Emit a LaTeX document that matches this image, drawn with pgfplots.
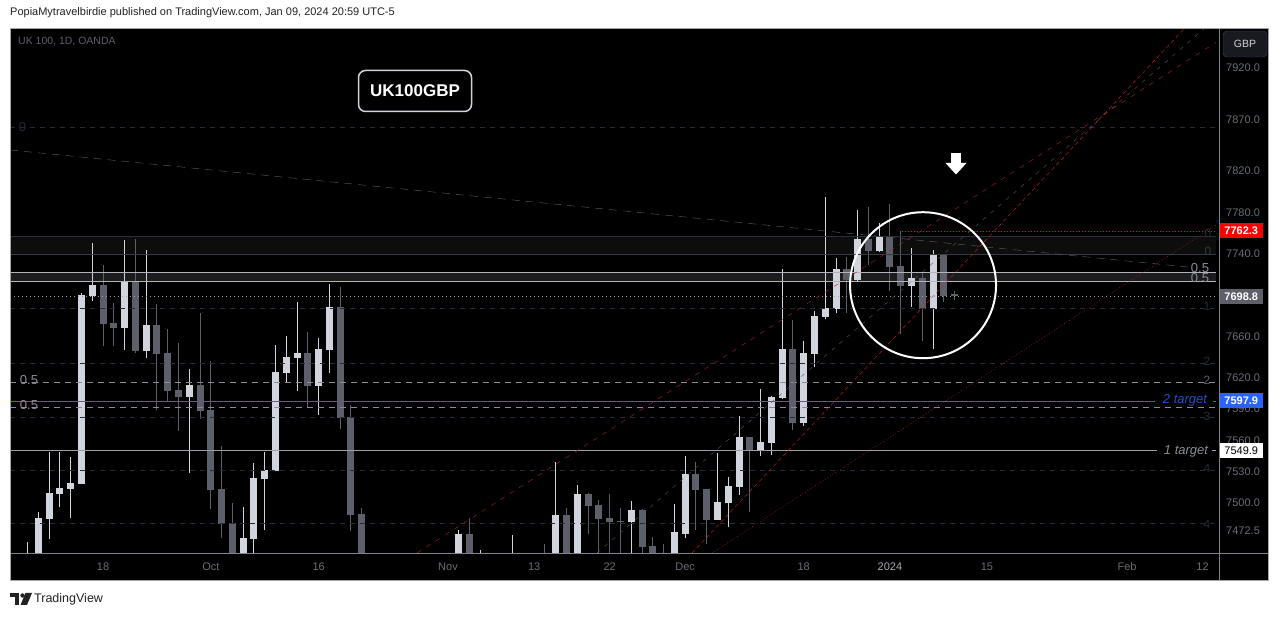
\documentclass[border=0pt]{standalone}
\usepackage{pgfplots}
\pgfplotsset{compat=1.18}
\usepackage{pgfplotstable}
\usepackage{fontspec}
\setmainfont{Liberation Sans}

\definecolor{up}{HTML}{D1D4DC}
\definecolor{dn}{HTML}{5D606B}
\definecolor{tick}{HTML}{6A6D77}
\definecolor{hdr}{HTML}{222222}
\definecolor{fibdark}{HTML}{262B3B}
\definecolor{zoneln}{HTML}{2A2E39}
\definecolor{zoneln2}{HTML}{363A45}
\definecolor{fibgray}{HTML}{8A8D96}
\definecolor{tvblue}{HTML}{2962FF}
\definecolor{tgtblue}{HTML}{2450C8}
\definecolor{redln}{HTML}{B0202A}
\definecolor{redhi}{HTML}{E01E1E}
\definecolor{sep}{HTML}{80838C}
\definecolor{btnfill}{HTML}{181A20}
\definecolor{btnline}{HTML}{434651}

\newcommand\fs[1]{\fontsize{#1}{#1}\selectfont}

% daily candles, x = trading-day index (0 = 18 Sep 2023)
\pgfplotstableread{
i o h l c
-7 7432 7462.2 7425 7445
-6 7440 7490.6 7430 7485.0
-5 7484.0 7549.1 7464.3 7509.4
-4 7508.5 7549.1 7495.3 7514.1
-3 7513.2 7543.4 7485.0 7518.8
-2 7517.9 7702.0 7517.9 7700.1
-1 7699.1 7750.4 7694.3 7709.7
2 7668.3 7753.3 7647.1 7712.6
4 7646.2 7743.5 7639.5 7671.2
8 7602.2 7628.9 7528.3 7613.6
13 7435 7495.3 7425 7465.2
14 7464.3 7537.7 7450 7523.6
15 7522.6 7549.1 7473.7 7531.1
16 7530.2 7651.9 7530.2 7626.1
17 7625.1 7660.6 7615.6 7640.4
18 7639.5 7693.3 7607.9 7644.2
20 7612.7 7658.7 7584.1 7648.1
21 7647.1 7710.6 7625.1 7688.5
33 7430 7473.7 7420 7469.0
35 7425 7453.6 7415 7440
38 7430 7468.1 7420 7445
42 7440 7538.7 7430 7487.8
44 7440 7516.9 7430 7508.5
49 7481.2 7500.9 7440 7492.5
53 7445 7498.1 7435 7470.9
54 7469.9 7544.3 7465.2 7527.3
57 7483.1 7547.2 7483.1 7500.0
58 7499.0 7524.5 7476.5 7516.0
59 7515.0 7583.2 7507.5 7563.3
61 7550.0 7609.8 7544.3 7558.5
62 7557.6 7603.1 7545.3 7602.2
63 7601.2 7725.2 7600.0 7648.1
65 7576.5 7655.8 7573.7 7644.2
66 7643.3 7684.6 7630.9 7679.8
67 7678.9 7795.2 7677.0 7687.5
68 7686.6 7735.8 7682.7 7725.2
70 7714.6 7782.5 7714.0 7754.3
72 7742.6 7769.8 7742.0 7757.2
75 7708.8 7745.5 7688.5 7716.5
77 7686.6 7743.5 7648.1 7739.7
}\upc

\pgfplotstableread{
i o h l c
0 7709.7 7729.0 7651.0 7672.1
1 7673.1 7692.3 7651.0 7668.3
3 7712.6 7754.3 7644.0 7646.2
5 7671.2 7691.4 7588.9 7643.3
6 7644.2 7667.3 7597.4 7607.9
7 7608.9 7653.9 7569.0 7602.2
9 7613.6 7682.7 7580.3 7587.9
10 7588.9 7636.6 7493.4 7512.2
11 7513.2 7554.7 7465.2 7479.4
12 7480.3 7499.0 7430 7440
19 7644.2 7664.5 7591.7 7612.7
22 7688.5 7707.7 7570.9 7581.3
23 7582.2 7593.6 7472.8 7487.8
24 7488.7 7494.4 7430 7440
34 7469.0 7485.0 7430 7440
41 7445 7459.6 7420 7430
43 7487.8 7494.4 7430 7440
45 7508.5 7509.0 7469.0 7496.2
46 7497.2 7501.9 7440 7484.0
47 7485.0 7508.5 7450 7481.2
48 7482.2 7494.4 7440 7481.2
50 7492.5 7493.4 7440 7456.8
51 7457.7 7466.2 7430 7445
52 7448 7459.6 7430 7440
55 7527.3 7538.7 7473.7 7512.2
56 7513.2 7513.2 7459.6 7483.1
60 7563.3 7563.3 7490.6 7550.0
64 7648.1 7676.0 7569.9 7576.5
69 7725.2 7736.8 7682.7 7714.6
71 7754.3 7785.4 7729.0 7742.6
73 7757.2 7788.4 7703.9 7727.1
74 7728.1 7762.1 7662.5 7708.8
76 7716.5 7721.3 7655.8 7686.6
78 7739.7 7739.7 7693.3 7699.1
79 7701.0 7703.9 7695.2 7698.8
}\dnc

\begin{document}
\begin{tikzpicture}
\path[use as bounding box] (0,0) rectangle (1281pt,617pt);
\begin{scope}[x=1pt,y=-1pt,shift={(0pt,617pt)}]
  \fill[white] (0,0) rectangle (1281,617);
  \fill[black] (10,28) rectangle (1268,580);
  \node[anchor=west, inner sep=0pt, text=hdr, font=\fs{11}] at (10,13)
    {PopiaMytravelbirdie published on TradingView.com, Jan 09, 2024 20:59 UTC-5};
\end{scope}

\begin{axis}[
  at={(10pt,64pt)}, anchor=south west,
  scale only axis, width=1206pt, height=525pt,
  xmin=-8.63, xmax=103.25,
  ymin=7451.1, ymax=7958.1,
  axis line style={draw=none},
  major tick length=0pt, minor tick num=0,
  xtick={0,10,20,32,40,47,54,65,73,82,95,102},
  xticklabels={18,Oct,16,Nov,13,22,Dec,18,{\textcolor{up!80!black}{2024}},15,Feb,12},
  ytick={7472.5,7500,7530,7560,7590,7620,7660,7740,7780,7820,7870,7920},
  yticklabels={7472.5,7500.0,7530.0,7560.0,7590.0,7620.0,7660.0,7740.0,7780.0,7820.0,7870.0,7920.0},
  yticklabel pos=right,
  ticklabel style={font=\fs{11}, text=tick},
  xticklabel style={anchor=center, yshift=-14pt},
  yticklabel style={anchor=west, xshift=10pt, inner sep=0pt},
]
% zones
\addplot[white, opacity=0.05, line width=18pt, forget plot] coordinates {(-8.63,7748.45) (103.25,7748.45)};
\addplot[white, opacity=0.11, line width=9pt, forget plot] coordinates {(-8.63,7717.95) (103.25,7717.95)};

% candles: wicks and bodies
\addplot[draw=none, forget plot, error bars/.cd, y dir=plus, y explicit, error mark=none,
  error bar style={draw=up, line width=1pt}]
  table[x=i, y=l, y error plus expr=\thisrow{h}-\thisrow{l}] {\upc};
\addplot[draw=none, forget plot, error bars/.cd, y dir=plus, y explicit, error mark=none,
  error bar style={draw=up, line width=7pt}]
  table[x=i, y=o, y error plus expr=\thisrow{c}-\thisrow{o}] {\upc};
\addplot[draw=none, forget plot, error bars/.cd, y dir=plus, y explicit, error mark=none,
  error bar style={draw=dn, line width=1pt}]
  table[x=i, y=l, y error plus expr=\thisrow{h}-\thisrow{l}] {\dnc};
\addplot[draw=none, forget plot, error bars/.cd, y dir=plus, y explicit, error mark=none,
  error bar style={draw=dn, line width=7pt}]
  table[x=i, y=c, y error plus expr=\thisrow{o}-\thisrow{c}] {\dnc};

% horizontal levels
\addplot[fibdark, dash pattern=on 5pt off 5pt] coordinates {(-8.63,7861.9) (103.25,7861.9)};
\addplot[zoneln] coordinates {(-8.63,7757.2) (103.25,7757.2)};
\addplot[zoneln2] coordinates {(-8.63,7739.7) (103.25,7739.7)};
\addplot[draw=up!85!black] coordinates {(-8.63,7722.3) (103.25,7722.3)};
\addplot[draw=up!85!black] coordinates {(-8.63,7713.6) (103.25,7713.6)};
\addplot[draw=dn!60!white, dash pattern=on 1pt off 3pt] coordinates {(-8.63,7698.8) (103.25,7698.8)};
\addplot[fibdark, dash pattern=on 5pt off 5pt] coordinates {(-8.63,7687.5) (103.25,7687.5)};
\addplot[fibdark, dash pattern=on 5pt off 5pt] coordinates {(-8.63,7634.7) (103.25,7634.7)};
\addplot[fibgray, dash pattern=on 6pt off 5pt] coordinates {(-8.63,7616.5) (103.25,7616.5)};
\addplot[tvblue] coordinates {(-8.63,7597.9) (97.59,7597.9)};
\addplot[tvblue] coordinates {(102.97,7597.9) (103.25,7597.9)};
\addplot[fibgray, dash pattern=on 6pt off 5pt] coordinates {(-8.63,7591.7) (103.25,7591.7)};
\addplot[fibdark, dash pattern=on 5pt off 5pt] coordinates {(-8.63,7582.2) (103.25,7582.2)};
\addplot[draw=up!75!black] coordinates {(-8.63,7549.9) (97.77,7549.9)};
\addplot[draw=up!75!black] coordinates {(102.9,7549.9) (103.25,7549.9)};
\addplot[fibdark, dash pattern=on 5pt off 5pt] coordinates {(-8.63,7531.1) (103.25,7531.1)};
\addplot[fibdark, dash pattern=on 5pt off 5pt] coordinates {(-8.63,7480.3) (103.25,7480.3)};
\addplot[red, dash pattern=on 1pt off 2pt] coordinates {(74.1,7762.3) (103.25,7762.3)};

% trend lines
\addplot[draw=dn, dash pattern=on 8pt off 6pt] coordinates {(-8.63,7840.3) (100.8,7727.1)};
\addplot[draw=redln, dash pattern=on 5pt off 6pt] coordinates {(29.13,7451.1) (103.25,7944.2)};
\addplot[draw=dn!90!black, dash pattern=on 4pt off 6pt] coordinates {(45.83,7451.1) (102.23,7958.1)};
\addplot[draw=redhi, dash pattern=on 4pt off 3pt] coordinates {(54.64,7451.1) (100.37,7958.1)};
\addplot[draw=redln, dash pattern=on 1pt off 2pt] coordinates {(56.49,7451.1) (103.25,7767.9)};

\node[circle, draw=white, line width=2pt, minimum size=146pt, inner sep=0pt] at (axis cs:76.07,7709.7) {};

\coordinate (tR) at (axis cs:103.25,7762.3);
\coordinate (tG) at (axis cs:103.25,7698.8);
\coordinate (tB) at (axis cs:103.25,7597.9);
\coordinate (tW) at (axis cs:103.25,7549.9);
\end{axis}

\tikzset{tag/.style={anchor=west, minimum width=44pt, minimum height=15pt, inner sep=0pt, font=\bfseries\fs{11}}}
\node[tag, fill=red, text=white] at ([xshift=3pt]tR) {7762.3};
\node[tag, fill=dn, text=white] at ([xshift=3pt]tG) {7698.8};
\node[tag, fill=tvblue, text=white] at ([xshift=3pt]tB) {7597.9};
\node[tag, fill=white, text=black, font=\fs{11}] at ([xshift=3pt]tW) {7549.9};

\begin{scope}[x=1pt,y=-1pt,shift={(0pt,617pt)}]
  % frame and separators
  \draw[sep] (10,553.5) -- (1268,553.5);
  \draw[sep] (1219.5,28) -- (1219.5,580);
  \draw[draw=black!35] (10,28) rectangle (1268,580);
  \node[anchor=west, inner sep=0pt, text=dn, font=\fs{10.5}] at (18,42) {UK 100, 1D, OANDA};
  % currency button
  \draw[fill=btnfill, draw=btnline, rounded corners=4pt] (1223,31) rectangle (1267,57);
  \node[text=up, font=\fs{10.5}] at (1245,44) {GBP};
  % title box
  \node[draw=up, fill=black, line width=1.5pt, rounded corners=7pt, minimum width=113pt,
    minimum height=41pt, text=white, font=\bfseries\fs{17}] at (415,91) {UK100GBP};
  % arrow
  \fill[white] (951,153) rectangle (961,163);
  \fill[white] (945.5,163) -- (966.5,163) -- (956,174.5) -- cycle;
  % level labels
  \node[text=fibdark, font=\fs{13}] at (22.5,127) {0};
  \node[text=fibgray, font=\fs{13}] at (29,380) {0.5};
  \node[text=fibgray, font=\fs{13}] at (29,405) {0.5};
  \node[text=fibdark, font=\fs{12}] at (1208,233) {0};
  \node[text=zoneln2, font=\fs{12}] at (1208,251) {0};
  \node[text=fibgray, font=\fs{13}] at (1200,268) {0.5};
  \node[text=fibgray, font=\fs{13}] at (1200,278) {0.5};
  \node[text=fibdark, font=\fs{12}] at (1207,306) {1};
  \node[text=fibdark, font=\fs{12}] at (1207,361) {2};
  \node[text=dn, font=\fs{12}] at (1207,380) {2};
  \node[text=fibdark, font=\fs{12}] at (1207,416) {3};
  \node[text=fibdark, font=\fs{12}] at (1207,468) {4};
  \node[text=fibdark, font=\fs{12}] at (1207,524) {4};
  \node[text=tgtblue, font=\itshape\fs{13}] at (1185,400) {2 target};
  \node[text=fibgray, font=\itshape\fs{13}] at (1186,451) {1 target};
  % footer logo
  \fill[hdr] (10,593) rectangle (19,597.5);
  \fill[hdr] (14.5,597.5) rectangle (19,605);
  \fill[hdr] (22.5,595.5) circle (2.2);
  \fill[hdr] (25.5,593) -- (32,593) -- (27,605) -- (20.5,605) -- cycle;
  \node[anchor=west, inner sep=0pt, text=hdr, font=\fs{12.5}] at (34,599.5) {TradingView};
\end{scope}
\end{tikzpicture}
\end{document}
